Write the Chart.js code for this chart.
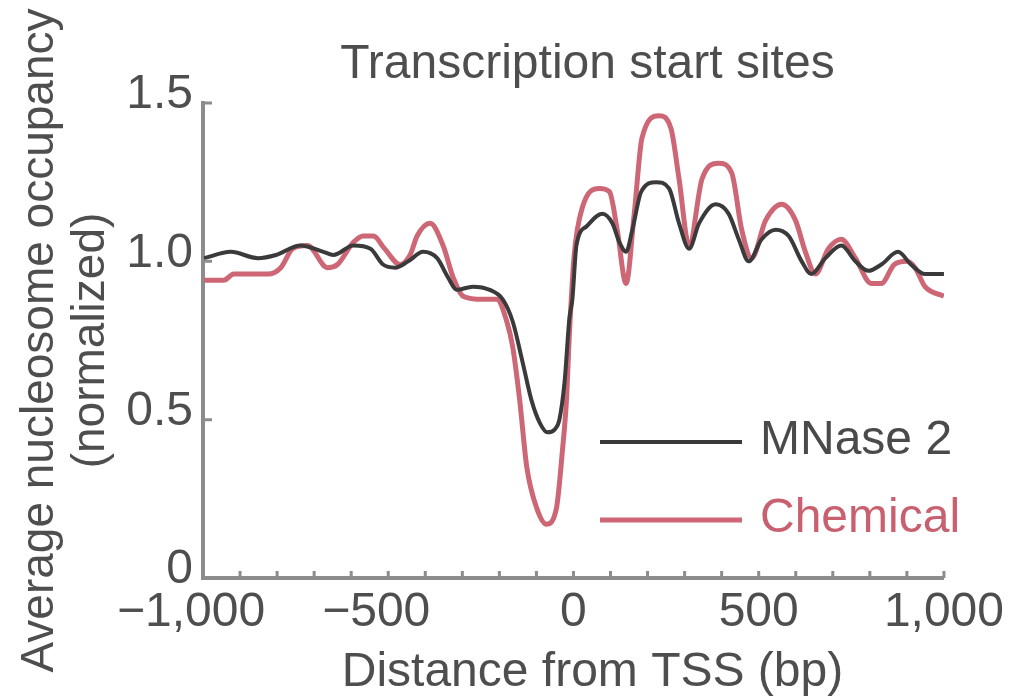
<!DOCTYPE html>
<html>
<head>
    <title>Transcription start sites</title>
    <script src="https://cdn.jsdelivr.net/npm/chart.js@4.4.2/dist/chart.umd.min.js"></script>
    <style>
        html, body {
            margin: 0;
            background: #fff;
        }
        #chart-container {
            width: 1010px;
            height: 698px;
        }
    </style>
</head>
<body>
    <div id="chart-container">
        <canvas id="tssChart"></canvas>
    </div>
    <script>
        // values (distance in bp, normalized occupancy)
        const mnasePos = [-997, -925, -852, -803, -737, -675, -648, -594, -548, -514, -481, -446, -406, -368, -339, -315,
            -272, -226, -191, -164, -137, -113, -91, -70, -50, -38, -24, -11, -3, 8, 35, 78, 105, 124, 142, 159, 183,
            223, 258, 285, 312, 339, 384, 419, 446, 473, 508, 546, 581, 616, 642, 680, 723, 761, 796, 831, 876, 911, 949, 1000];
        const mnaseVal = [1.01, 1.03, 1.01, 1.02, 1.05, 1.03, 1.02, 1.05, 1.04, 0.99, 0.98, 1.00, 1.03, 1.01, 0.95, 0.91,
            0.92, 0.91, 0.88, 0.81, 0.68, 0.56, 0.49, 0.46, 0.47, 0.50, 0.62, 0.82, 0.88, 1.05, 1.11, 1.15, 1.12, 1.06, 1.03, 1.10, 1.22,
            1.25, 1.23, 1.12, 1.04, 1.12, 1.18, 1.15, 1.07, 1.00, 1.07, 1.10, 1.08, 1.00, 0.96, 1.01, 1.05, 1.00, 0.97, 0.99, 1.03, 0.99, 0.96, 0.96];

        const chemPos = [-997, -944, -917, -863, -825, -790, -758, -718, -664, -637, -594, -567, -540, -510, -468, -441, -422,
            -387, -352, -325, -298, -245, -207, -180, -164, -145, -126, -99, -73, -46, -30, -19, -11, 2, 24, 70, 97, 118, 142,
            164, 185, 231, 263, 285, 312, 347, 392, 427, 454, 481, 519, 562, 599, 626, 653, 688, 723, 761, 804, 831, 866, 899, 922, 949, 1000];
        const chemVal = [0.94, 0.94, 0.96, 0.96, 0.96, 0.98, 1.04, 1.05, 0.98, 0.99, 1.06, 1.08, 1.08, 1.04, 0.99, 1.02, 1.08,
            1.12, 1.05, 0.95, 0.89, 0.88, 0.88, 0.81, 0.73, 0.56, 0.35, 0.22, 0.17, 0.22, 0.40, 0.56, 0.77, 1.02, 1.17, 1.23, 1.22, 1.10, 0.93,
            1.15, 1.39, 1.46, 1.42, 1.26, 1.05, 1.26, 1.31, 1.28, 1.10, 1.01, 1.13, 1.18, 1.13, 1.03, 0.96, 1.04, 1.07, 1.01, 0.93, 0.93, 0.99, 1.00, 0.98, 0.92, 0.89];

        const xTickValues = [-1000, -500, 0, 500, 1000];
        const xTickLabels = ['\u22121,000', '\u2212500', '0', '500', '1,000'];
        const yTickValues = [0, 0.5, 1.0, 1.5];
        const yTickLabels = ['0', '0.5', '1.0', '1.5'];

        const FONT = "'Liberation Sans', Arial, sans-serif";
        const AXIS_GREY = '#8c8c8c';
        const TEXT_GREY = '#4e4e4e';
        const BLACK_LINE = '#3a3a3a';
        const RED_LINE = '#cd6776';

        const toPoints = (xs, ys) => xs.map((x, i) => ({ x: x, y: ys[i] }));

        // inward tick marks, title, x-axis title and in-plot legend
        const decorations = {
            id: 'decorations',
            afterDraw(chart) {
                const { ctx, chartArea, scales } = chart;
                ctx.save();
                ctx.strokeStyle = AXIS_GREY;
                ctx.lineWidth = 3;
                ctx.beginPath();
                for (let v = -1000; v <= 1000; v += 100) {
                    const px = scales.x.getPixelForValue(v);
                    ctx.moveTo(px, chartArea.bottom);
                    ctx.lineTo(px, chartArea.bottom - 7);
                }
                yTickValues.forEach(v => {
                    const py = scales.y.getPixelForValue(v);
                    ctx.moveTo(chartArea.left, py);
                    ctx.lineTo(chartArea.left + 9, py);
                });
                ctx.stroke();

                const cx = (chartArea.left + chartArea.right) / 2;
                ctx.fillStyle = TEXT_GREY;
                ctx.textAlign = 'center';
                ctx.textBaseline = 'alphabetic';
                ctx.font = '48px ' + FONT;
                ctx.fillText('Transcription start sites', cx + 14, 78);
                ctx.fillText('Distance from TSS (bp)', cx + 19, 686);

                // legend
                ctx.textAlign = 'left';
                chart.data.datasets.forEach((ds, i) => {
                    const y = 442 + i * 78;
                    ctx.strokeStyle = ds.borderColor;
                    ctx.lineWidth = ds.borderWidth;
                    ctx.beginPath();
                    ctx.moveTo(600, y);
                    ctx.lineTo(742, y);
                    ctx.stroke();
                    ctx.fillStyle = i === 0 ? '#4a4a4a' : '#c9606f';
                    ctx.fillText(ds.label, 760, y + 12);
                });
                ctx.restore();
            }
        };

        const ctx = document.getElementById('tssChart').getContext('2d');
        new Chart(ctx, {
            type: 'line',
            data: {
                datasets: [
                    {
                        label: 'MNase 2',
                        data: toPoints(mnasePos, mnaseVal),
                        borderColor: BLACK_LINE,
                        borderWidth: 4,
                        pointRadius: 0,
                        cubicInterpolationMode: 'monotone'
                    },
                    {
                        label: 'Chemical',
                        data: toPoints(chemPos, chemVal),
                        borderColor: RED_LINE,
                        borderWidth: 5,
                        pointRadius: 0,
                        cubicInterpolationMode: 'monotone'
                    }
                ]
            },
            options: {
                responsive: true,
                maintainAspectRatio: false,
                animation: false,
                layout: {
                    padding: { top: 103, right: 63, left: 0, bottom: 0 }
                },
                scales: {
                    x: {
                        type: 'linear',
                        min: -1000,
                        max: 1000,
                        afterFit: scale => { scale.height = 120; },
                        afterBuildTicks: scale => {
                            scale.ticks = xTickValues.map(v => ({ value: v }));
                        },
                        ticks: {
                            autoSkip: false,
                            maxRotation: 0,
                            padding: 6,
                            color: TEXT_GREY,
                            font: { family: FONT, size: 48 },
                            callback: value => {
                                const i = xTickValues.indexOf(value);
                                if (i < 0) return '';
                                // keep the digits centred on the tick, minus hanging left
                                return value < 0 ? xTickLabels[i] + '\u2002' : xTickLabels[i];
                            }
                        },
                        grid: { drawOnChartArea: false, drawTicks: false },
                        border: { display: true, color: AXIS_GREY, width: 4 }
                    },
                    y: {
                        min: 0,
                        max: 1.5,
                        afterFit: scale => { scale.width = 203; },
                        afterBuildTicks: scale => {
                            scale.ticks = yTickValues.map(v => ({ value: v }));
                        },
                        ticks: {
                            padding: 10,
                            labelOffset: -8,
                            color: TEXT_GREY,
                            font: { family: FONT, size: 48 },
                            callback: value => {
                                const i = yTickValues.indexOf(value);
                                return i < 0 ? '' : yTickLabels[i];
                            }
                        },
                        title: {
                            display: true,
                            text: ['Average nucleosome occupancy', '(normalized)'],
                            color: TEXT_GREY,
                            font: { family: FONT, size: 46, lineHeight: 1.1 },
                            padding: { top: 15, bottom: 0 }
                        },
                        grid: { drawOnChartArea: false, drawTicks: false },
                        border: { display: true, color: AXIS_GREY, width: 4 }
                    }
                },
                plugins: {
                    legend: { display: false },
                    tooltip: { enabled: false }
                }
            },
            plugins: [decorations]
        });
    </script>
</body>
</html>
